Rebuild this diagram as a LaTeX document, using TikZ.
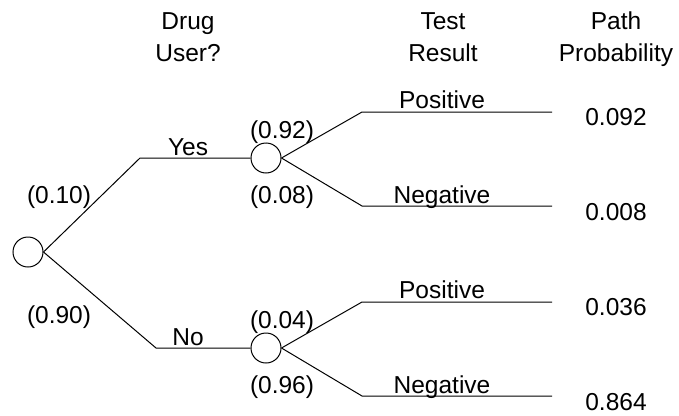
\documentclass[tikz,border=0pt]{standalone}
\usepackage{fontspec}
\setmainfont{Liberation Sans}
\begin{document}
\begin{tikzpicture}[x=1pt,y=-1pt,
  every node/.style={font=\fontsize{24.5}{32}\selectfont},
  chance/.style={circle,draw,line width=1pt,minimum size=30pt,inner sep=0pt},
  branch/.style={line width=1pt},
  lbl/.style={inner sep=0pt,anchor=base},
  prob/.style={inner sep=0pt,anchor=center},
  head/.style={inner sep=0pt,anchor=base,align=center}]
\useasboundingbox (0,0) rectangle (679,415);
% headers
\node[head] (h1) at (188,61) {Drug\\User?};
\node[head] (h2) at (443,61) {Test\\Result};
\node[head] (h3) at (616,61) {Path\\Probability};
% nodes
\node[chance] (root) at (28,252) {};
\node[chance] (cy) at (266,158) {};
\node[chance] (cn) at (266,348) {};
\coordinate (ky) at (140,158);
\coordinate (kn) at (156,348);
\coordinate (kyp) at (362,112);
\coordinate (kyn) at (362,206);
\coordinate (knp) at (362,302);
\coordinate (knn) at (362,396);
\coordinate (eyp) at (552,112);
\coordinate (eyn) at (552,206);
\coordinate (enp) at (552,302);
\coordinate (enn) at (552,396);
% branches
\draw[branch] (root.east) -- (ky) -- (cy.west);
\draw[branch] (root.east) -- (kn) -- (cn.west);
\draw[branch] (cy.east) -- (kyp) -- (eyp);
\draw[branch] (cy.east) -- (kyn) -- (eyn);
\draw[branch] (cn.east) -- (knp) -- (enp);
\draw[branch] (cn.east) -- (knn) -- (enn);
% labels
\node[lbl] (ly) at (188,155) {Yes};
\node[lbl] (ln) at (188,345) {No};
\node[lbl] (lyp) at (442,108) {Positive};
\node[lbl] (lyn) at (442,203) {Negative};
\node[lbl] (lnp) at (442,298) {Positive};
\node[lbl] (lnn) at (442,393) {Negative};
\node[prob] (p1) at (59,197) {(0.10)};
\node[prob] (p2) at (59,317) {(0.90)};
\node[prob] (p3) at (282,132) {(0.92)};
\node[prob] (p4) at (282,197) {(0.08)};
\node[prob] (p5) at (282,322) {(0.04)};
\node[prob] (p6) at (282,387) {(0.96)};
\node[lbl] (v1) at (616,125) {0.092};
\node[lbl] (v2) at (616,220) {0.008};
\node[lbl] (v3) at (616,315) {0.036};
\node[lbl] (v4) at (616,410) {0.864};
\end{tikzpicture}
\end{document}
